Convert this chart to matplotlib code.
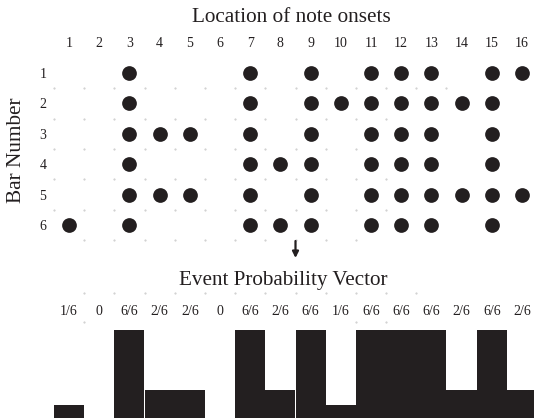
import numpy as np
import matplotlib
matplotlib.use("Agg")
import matplotlib.pyplot as plt

plt.rcParams['font.family'] = ['Liberation Serif', 'DejaVu Serif']

# note onset locations (1..16) for each of the six bars
bar1 = [3, 7, 9, 11, 12, 13, 15, 16]
bar2 = [3, 7, 9, 10, 11, 12, 13, 14, 15]
bar3 = [3, 4, 5, 7, 9, 11, 12, 13, 15]
bar4 = [3, 7, 8, 9, 11, 12, 13, 15]
bar5 = [3, 4, 5, 7, 9, 11, 12, 13, 14, 15, 16]
bar6 = [1, 3, 7, 8, 9, 11, 12, 13, 15]
bars = [bar1, bar2, bar3, bar4, bar5, bar6]

locations = np.arange(1, 17)
n_bars = len(bars)

# event probability: how many bars have an onset at each location
counts = [sum(loc in b for b in bars) for loc in locations]
prob = np.array(counts) / n_bars
prob_labels = ["0" if c == 0 else f"{c}/{n_bars}" for c in counts]

ink = "#231f20"
faint = "#c8c8c8"
W, H = 534, 418
fig = plt.figure(figsize=(W / 100, H / 100), dpi=100)

# pixel layout
col_w = 30.2
x0 = 69 - col_w / 2
row_h = 30.4
y_top = 73 - row_h / 2
y_bot = y_top + row_h * 6

# --- onset grid ---
ax = fig.add_axes([x0 / W, 1 - y_bot / H, col_w * 16 / W, row_h * 6 / H])
ax.set_xlim(0.5, 16.5)
ax.set_ylim(6.5, 0.5)
for i, b in enumerate(bars, start=1):
    ax.plot(b, [i] * len(b), "o", color=ink, markersize=10.6, mec="none")

# faint dotted grid: (row, first column, last column) at half positions
grid_rows = [(1.5, 0.5, 13.5), (2.5, 0.5, 11.5), (3.5, 0.5, 10.5),
             (4.5, 0.5, 11.5), (5.5, 0.5, 11.5), (6.5, 1.5, 10.5)]
for gy, a, b in grid_rows:
    gx = np.arange(a, b + 0.1, 1)
    ax.plot(gx, [gy] * len(gx), ".", color=faint, markersize=1.0, clip_on=False)

ax.xaxis.tick_top()
ax.set_xticks(locations)
ax.set_xticklabels([str(v) for v in locations], fontsize=10, color=ink)
ax.set_yticks(range(1, n_bars + 1))
ax.set_yticklabels([str(v) for v in range(1, n_bars + 1)], fontsize=10, color=ink)
ax.tick_params(length=0, pad=5.5)
for s in ax.spines.values():
    s.set_visible(False)
ax.patch.set_visible(False)

fig.text(291 / W, 1 - 18 / H, "Location of note onsets", ha="center", va="center",
         fontsize=15.3, color=ink)
fig.text(17 / W, 1 - 150 / H, "Bar Number", ha="center", va="center",
         rotation=90, fontsize=15.3, color=ink)

# --- event probability vector ---
base_px, full_px = 420, 330
ax2 = fig.add_axes([x0 / W, 1 - base_px / H, col_w * 16 / W, (base_px - full_px) / H])
ax2.set_xlim(0.5, 16.5)
ax2.set_ylim(0, 1)
ax2.bar(locations, prob, width=1.0, color=ink, edgecolor="none")
ax2.axis("off")

unit = base_px - full_px
for loc, lab in zip(locations, prob_labels):
    ax2.text(loc, (base_px - 312) / unit, lab, ha="center", va="center",
             fontsize=10, color=ink, clip_on=False)

# faint dots between the labels
ax2.plot(np.arange(1.5, 12.6, 1), [(base_px - 293) / unit] * 12, ".",
         color=faint, markersize=1.0, clip_on=False)
ax2.plot([1.5, 10.5, 11.5], [(base_px - 322) / unit] * 3, ".",
         color=faint, markersize=1.0, clip_on=False)

ax2.text(8.1, (base_px - 280) / unit, "Event Probability Vector", ha="center",
         va="center", fontsize=15.2, color=ink, clip_on=False)
ax2.annotate("", xy=(8.5, (base_px - 258) / unit), xytext=(8.5, (base_px - 241) / unit),
             arrowprops=dict(arrowstyle="-|>", color=ink, lw=1.6, mutation_scale=9,
                             shrinkA=0, shrinkB=0), annotation_clip=False)

fig.savefig("out.png", dpi=100)
